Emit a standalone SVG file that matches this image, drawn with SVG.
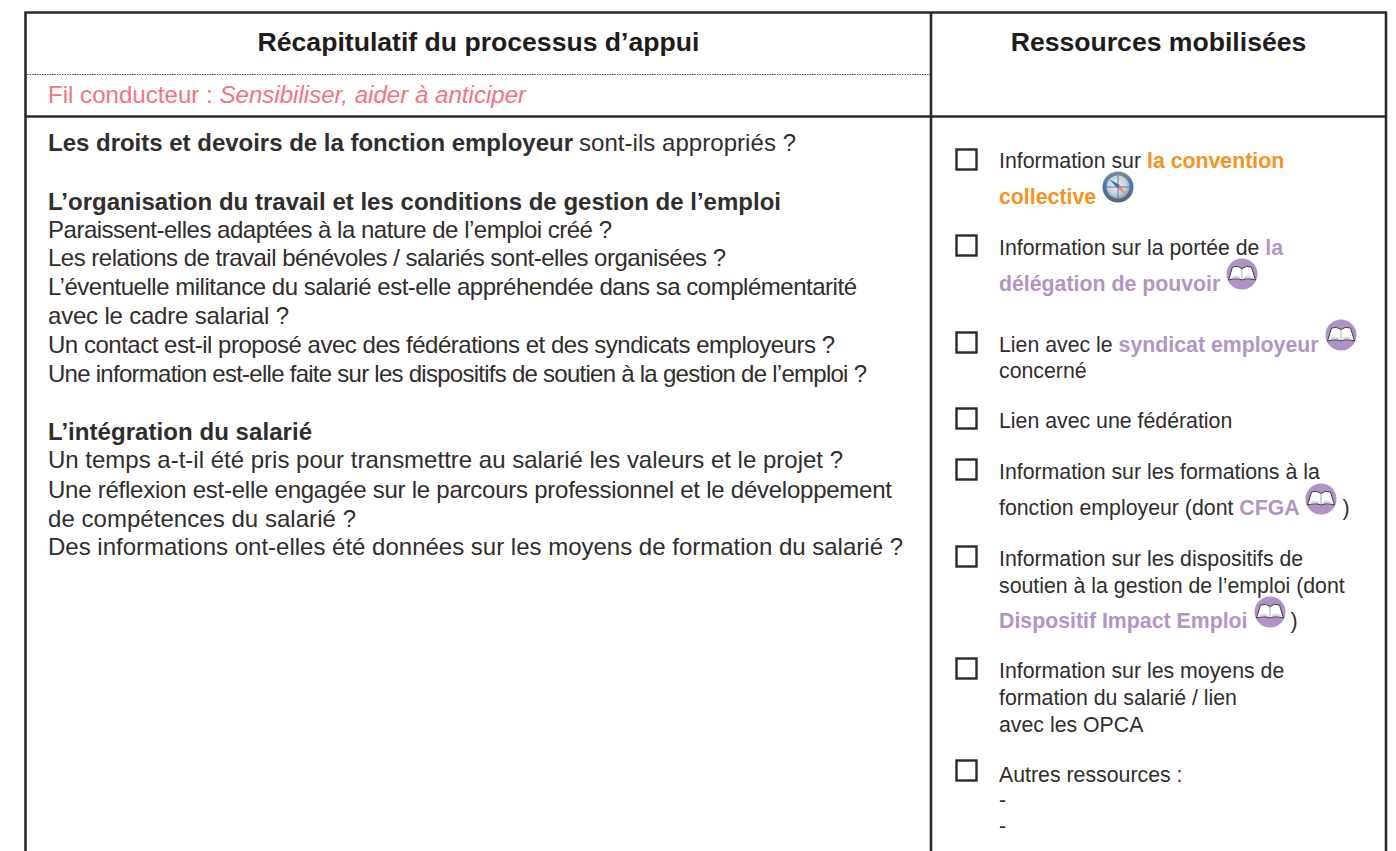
<svg xmlns="http://www.w3.org/2000/svg" width="1396" height="851" viewBox="0 0 1396 851">
<style>
text{font-family:"Liberation Sans",Arial,sans-serif;fill:#2f2e2d}
.h{font-size:26.6px;font-weight:700;fill:#1f1d1c}
.m{font-size:24px}
.b{font-weight:700}
.r{font-size:21.3px}
.o{font-weight:700;fill:#f7931e}
.p{font-weight:700;fill:#b294c7}
.f{font-size:24.1px;fill:#f4737f}
.l{fill:none;stroke:#2b2a29;stroke-width:2.6}
.c{fill:#fff;stroke:#2b2a29;stroke-width:2.4}
</style>
<defs>
<radialGradient id="cg" cx="45%" cy="40%" r="60%"><stop offset="0" stop-color="#f0f3f7"/><stop offset="0.7" stop-color="#c3cfdc"/><stop offset="1" stop-color="#8aa2bd"/></radialGradient>
<linearGradient id="rim" x1="0" y1="0" x2="0" y2="1"><stop offset="0" stop-color="#7f8a96"/><stop offset="0.45" stop-color="#3f78b5"/><stop offset="1" stop-color="#5c6670"/></linearGradient>
<g id="book">
<circle cx="0" cy="0" r="15.500" fill="#b092c6"/>
<path d="M-13.500 6 L-9.500 -7 Q-4 -9 0 -5.500 Q4 -9 9.500 -7 L13.500 6 Q5 3.500 0 6 Q-5 3.500 -13.500 6Z" fill="#fff" stroke="#3a3a3a" stroke-width="1"/>
<path d="M0 -5.500V6" stroke="#999" stroke-width="0.800"/>
<path d="M-11.500 4.500Q-7 -1 -1 4ZM11.500 4.500Q7 -1 1 4Z" fill="#d9d9d9"/>
</g>
<g id="compass">
<circle cx="0" cy="0" r="15.500" fill="url(#rim)"/>
<circle cx="0" cy="0" r="11.500" fill="url(#cg)"/>
<path d="M-9 -8L-1 1L2 -2Z" fill="#3f78b5"/>
<path d="M-1 1L9 9L2 -2Z" fill="#f08a7a"/>
<path d="M0 -11V11M-11 0H11" stroke="#5a6672" stroke-width="0.800"/>
</g>
</defs>
<g id="frame">
<path class="l" d="M25.500 851V12.500H1386V851"/>
<path class="l" d="M931 12.500V851"/>
<path class="l" d="M25.500 116.500H1386"/>
<path d="M27 74.500H930" fill="none" stroke="#555" stroke-width="1" stroke-dasharray="1.500 1"/>
</g>
<g id="header-left">
<text class="h" x="478.500" y="50.500" text-anchor="middle">Récapitulatif du processus d’appui</text>
<text class="f" x="48" y="102.500">Fil conducteur : <tspan font-style="italic" style="fill:#f4737f">Sensibiliser, aider à anticiper</tspan></text>
</g>
<g id="header-right"><text class="h" x="1158.500" y="50.500" text-anchor="middle">Ressources mobilisées</text></g>
<g id="questions" transform="translate(0 0.700)">
<text class="m b" x="48" y="150" textLength="525">Les droits et devoirs de la fonction employeur</text>
<text class="m" x="579" y="150" textLength="217">sont-ils appropriés ?</text>
<text class="m b" x="48" y="209" textLength="733">L’organisation du travail et les conditions de gestion de l’emploi</text>
<text class="m" x="48" y="237" textLength="564">Paraissent-elles adaptées à la nature de l’emploi créé ?</text>
<text class="m" x="48" y="265" textLength="678">Les relations de travail bénévoles / salariés sont-elles organisées ?</text>
<text class="m" x="48" y="294" textLength="809">L’éventuelle militance du salarié est-elle appréhendée dans sa complémentarité</text>
<text class="m" x="48" y="323" textLength="241">avec le cadre salarial ?</text>
<text class="m" x="48" y="352" textLength="787">Un contact est-il proposé avec des fédérations et des syndicats employeurs ?</text>
<text class="m" x="48" y="381" textLength="819">Une information est-elle faite sur les dispositifs de soutien à la gestion de l’emploi ?</text>
<text class="m b" x="48" y="439" textLength="264">L’intégration du salarié</text>
<text class="m" x="48" y="467" textLength="795">Un temps a-t-il été pris pour transmettre au salarié les valeurs et le projet ?</text>
<text class="m" x="48" y="497" textLength="844">Une réflexion est-elle engagée sur le parcours professionnel et le développement</text>
<text class="m" x="48" y="526" textLength="308">de compétences du salarié ?</text>
<text class="m" x="48" y="554" textLength="855">Des informations ont-elles été données sur les moyens de formation du salarié ?</text>
</g>
<g id="res1"><rect class="c" x="956.500" y="149.500" width="20" height="20"/>
<text class="r" x="999" y="167.500">Information sur <tspan class="o">la convention</tspan></text>
<text class="r" x="999" y="203.500"><tspan class="o">collective</tspan></text><use href="#compass" x="1118" y="187"/></g>
<g id="res2"><rect class="c" x="956.500" y="235.500" width="20" height="20"/>
<text class="r" x="999" y="254.500">Information sur la portée de <tspan class="p">la</tspan></text>
<text class="r" x="999" y="290.500"><tspan class="p">délégation de pouvoir</tspan></text><use href="#book" x="1242" y="274"/></g>
<g id="res3"><rect class="c" x="956.500" y="332.500" width="20" height="20"/>
<text class="r" x="999" y="351.500">Lien avec le <tspan class="p">syndicat employeur</tspan></text>
<text class="r" x="999" y="377.500">concerné</text><use href="#book" x="1341" y="335"/></g>
<g id="res4"><rect class="c" x="956.500" y="408.500" width="20" height="20"/>
<text class="r" x="999" y="427.500">Lien avec une fédération</text></g>
<g id="res5"><rect class="c" x="956.500" y="459.500" width="20" height="20"/>
<text class="r" x="999" y="478.500">Information sur les formations à la</text>
<text class="r" x="999" y="514.500">fonction employeur (dont <tspan class="p">CFGA</tspan></text><use href="#book" x="1321" y="499"/><text class="r" x="1342.500" y="514.500">)</text></g>
<g id="res6"><rect class="c" x="956.500" y="546.500" width="20" height="20"/>
<text class="r" x="999" y="565.500">Information sur les dispositifs de</text>
<text class="r" x="999" y="592.500">soutien à la gestion de l’emploi (dont</text>
<text class="r" x="999" y="627.500"><tspan class="p">Dispositif Impact Emploi</tspan></text><use href="#book" x="1270" y="612"/><text class="r" x="1290.500" y="627.500">)</text></g>
<g id="res7"><rect class="c" x="956.500" y="658.500" width="20" height="20"/>
<text class="r" x="999" y="677.500">Information sur les moyens de</text>
<text class="r" x="999" y="704.500">formation du salarié / lien</text>
<text class="r" x="999" y="731.500">avec les OPCA</text></g>
<g id="res8"><rect class="c" x="956.500" y="760.500" width="20" height="20"/>
<text class="r" x="999" y="781.500">Autres ressources :</text>
<text class="r" x="999" y="806.500">-</text>
<text class="r" x="999" y="832.500">-</text></g>
</svg>
